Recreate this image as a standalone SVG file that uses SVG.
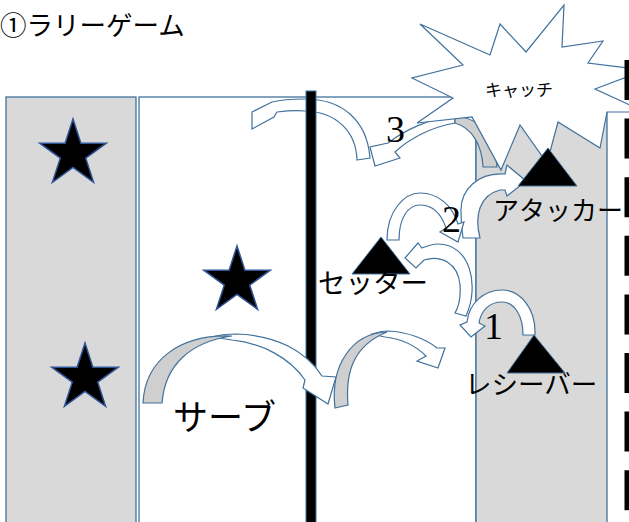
<svg xmlns="http://www.w3.org/2000/svg" width="629" height="522" viewBox="0 0 629 522">
<defs>
<style>
.court{stroke:#41719c;stroke-width:1.3}
.grey{fill:#d9d9d9}
.white{fill:#ffffff}
.arrow{fill:#ffffff;stroke:#41719c;stroke-width:1.2;stroke-linejoin:miter}
.under{fill:#cfcfcf;stroke:#41719c;stroke-width:1.2}
.player{fill:#000000;stroke:#41719c;stroke-width:1}
.star{fill:#000000;stroke:#2f5597;stroke-width:1.5}
.jp{font-family:"Noto Sans CJK JP","Noto Sans CJK SC",sans-serif;fill:#000000}
.num{font-family:"Liberation Serif","DejaVu Serif",serif;fill:#000000}
</style>
<path id="starShape" d="M0,-35 L7.88,-10.84 L33.29,-10.82 L12.74,4.14 L20.57,28.32 L0,13.4 L-20.57,28.32 L-12.74,4.14 L-33.29,-10.82 L-7.88,-10.84 Z"/>
</defs>
<rect width="629" height="522" fill="#ffffff"/>
<text class="jp" x="0" y="35" font-size="26.5">①ラリーゲーム</text>
<g id="court">
<rect class="court grey" x="6" y="97" width="130" height="440"/>
<rect class="court white" x="139" y="97" width="337" height="440"/>
<rect class="court grey" x="476" y="97" width="131" height="440"/>
</g>
<g id="connectors">
<path id="arrow-3b" class="arrow" d="M357,160 L370,158 C367,120 342,99 305,99 C290,99 280,100 272,102 L252,112 L252,129 L274,117 L277,112 C285,111 295,110 305,111 C335,112 356,130 357,160 Z"/>
</g>
<g id="net">
<rect x="306" y="91" width="10" height="440" fill="#000000" stroke="#41719c" stroke-width="1"/>
</g>
<g id="connectors2">
<path id="arrow-3a" class="arrow" d="M455,116 C430,118 405,130 388,143 L370,147 L375,166 L400,158 L395,152 C410,138 432,127 455,123 Z"/>
<path id="arrow-3a-under" class="under" d="M483,167 L497,167 C495,138 482,118 455,116 L455,123 C472,128 482,145 483,167 Z"/>
<path id="arrow-2b" class="arrow" d="M463,238 L480,238 C474,215 480,195 500,190 L505,190 L507,196 L526,181 L507,165 L505,174 C478,172 460,190 461,212 C461,225 462,232 463,238 Z"/>
<path id="arrow-2" class="arrow" d="M387,240 L399,240 C399,218 408,205 420,205 C432,205 441,213 446,228 L440,232 L458,242 L464,222 L458,224 C452,205 438,193 420,193 C405,193 387,210 387,240 Z"/>
<path id="arrow-1b" class="arrow" d="M455,313 L466,316 C480,285 470,244 438,244 C432,244 427,246 422,248 L418,243 L405,258 L416,268 L424,260 C440,255 458,262 460,285 C461,298 459,306 455,313 Z"/>
<path id="arrow-1" class="arrow" d="M523,335 L535,335 C536,308 520,290 502,290 C484,290 469,303 467,322 L460,325 L471,337 L485,326 L479,323 C481,310 490,302 502,302 C514,302 523,315 523,335 Z"/>
<path id="serve-1" class="arrow" d="M212,337 C222,334 230,334 236,334 C276,335 306,351 322,376 L336,377 L328,404 L303,388 L305,380 C290,358 262,343 232,340 C225,339 218,338 212,337 Z"/>
<path id="serve-1-under" class="under" d="M143,403 L162,403 C165,365 190,342 232,336 C180,334 145,360 143,403 Z"/>
<path id="serve-2" class="arrow" d="M372,334 C378,332 382,331 388,331 C408,332 426,339 437,348 L445,348 L438,368 L417,361 L426,356 C415,345 402,339 385,337 C380,336 376,335 372,334 Z"/>
<path id="serve-2-under" class="under" d="M335,408 L348,405 C345,370 355,345 387,332 C352,333 330,365 335,408 Z"/>
</g>
<g id="catch">
<polygon points="420,24 490,55 500,24 526,52 564,5 562,47 603,41 588,63 645,70 595,89 645,112 607,112 600,148 558,122 547,163 520,125 501,170 472,117 417,123 453,98 412,78 463,65" fill="#ffffff" stroke="#41719c" stroke-width="1.2"/>
<text class="jp" x="485" y="96" font-size="17" fill="#333333">キャッチ</text>
</g>
<g id="attacker">
<polygon class="player" points="548,148 518,186 577,186"/>
<text class="jp" x="493" y="220" font-size="26">アタッカー</text>
</g>
<g id="setter">
<polygon class="player" points="381,237 352,274 410,274"/>
<text class="jp" x="318" y="293" font-size="27.5">セッター</text>
</g>
<g id="receiver">
<polygon class="player" points="534,335 507,373 565,373"/>
<text class="jp" x="465" y="394" font-size="26.5">レシーバー</text>
</g>
<g id="serve-label"><text class="jp" x="173" y="430" font-size="35">サーブ</text></g>
<g id="stars">
<use href="#starShape" class="star" transform="translate(73,154)"/>
<use href="#starShape" class="star" transform="translate(237,281)"/>
<use href="#starShape" class="star" transform="translate(85,378)"/>
</g>
<g id="numbers">
<text class="num" x="386" y="142" font-size="38">3</text>
<text class="num" x="442" y="232" font-size="38">2</text>
<text class="num" x="484" y="339" font-size="38">1</text>
</g>
<line x1="627" y1="60" x2="627" y2="522" stroke="#000000" stroke-width="5" stroke-dasharray="40 18.6"/>
</svg>
